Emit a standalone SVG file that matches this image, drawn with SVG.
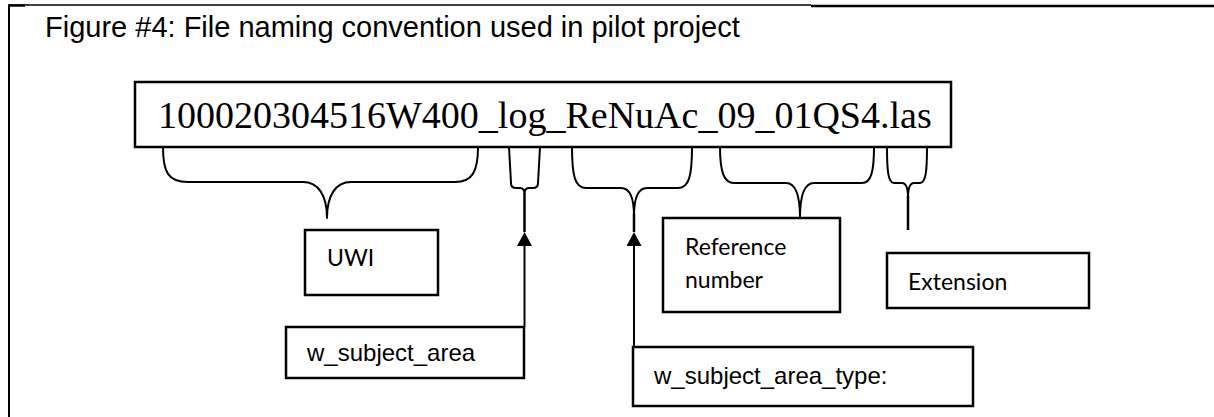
<svg xmlns="http://www.w3.org/2000/svg" width="1214" height="417" viewBox="0 0 1214 417">
  <style>
    .frame { fill: none; stroke: #000; }
    .box { fill: #fff; stroke: #000; stroke-width: 2.5; }
    .brace { fill: none; stroke: #000; stroke-width: 2; stroke-linejoin: round; }
    .stem { fill: none; stroke: #000; stroke-width: 2.5; }
    .arrow { fill: none; stroke: #000; stroke-width: 2; }
    .title { font-family: "Liberation Sans", Arial, sans-serif; font-size: 29px; fill: #000; }
    .fname { font-family: "Liberation Serif", "Times New Roman", serif; font-size: 38px; fill: #000; }
    .arial { font-family: "Liberation Sans", Arial, sans-serif; font-size: 24px; fill: #000; }
    .cal { font-family: Lato, "Open Sans", sans-serif; font-size: 23px; fill: #000; }
  </style>
  <defs>
    <marker id="head" markerUnits="userSpaceOnUse" markerWidth="15" markerHeight="15" refX="0" refY="7.5" orient="auto">
      <path d="M0,0 L14,7.5 L0,15 z" fill="#000"/>
    </marker>
  </defs>

  <rect width="1214" height="417" fill="#fff"/>

  <!-- outer frame edges -->
  <g id="frame">
    <path class="frame" stroke-width="2" d="M9,5 V417"/>
    <path class="frame" stroke-width="1.5" d="M9,5 H811"/>
    <path class="frame" stroke-width="2.5" d="M811,6 H1214"/>
    <path class="frame" stroke-width="2.5" d="M8,5.5 H25"/>
  </g>

  <text id="title" class="title" x="45" y="37">Figure #4: File naming convention used in pilot project</text>

  <g id="filename">
    <rect class="box" x="135" y="82" width="816" height="65"/>
    <text class="fname" x="158" y="128">100020304516W400_log_ReNuAc_09_01QS4.las</text>
  </g>

  <g id="uwi">
    <rect class="box" x="305" y="230" width="133" height="65"/>
    <text class="cal" x="327" y="266">UWI</text>
  </g>

  <g id="subject-area">
    <rect class="box" x="286" y="327" width="238" height="51"/>
    <text class="arial" x="307" y="361">w_subject_area</text>
  </g>

  <g id="subject-area-type">
    <rect class="box" x="633" y="347" width="340" height="59"/>
    <text class="arial" x="654" y="384">w_subject_area_type:</text>
  </g>

  <g id="reference">
    <rect class="box" x="663" y="218" width="177" height="94"/>
    <text class="cal" x="685" y="255">Reference</text>
    <text class="cal" x="685" y="288">number</text>
  </g>

  <g id="extension">
    <rect class="box" x="887" y="253" width="202" height="55"/>
    <text class="cal" x="908" y="290">Extension</text>
  </g>

  <!-- braces under the file name and the arrows leading to them -->
  <g id="connectors">
    <path class="brace" d="M163,147 C163,172 168,182 188,182 L303,182 C318,182 327,195 327,218 C327,195 336,182 351,182 L455,182 C472,182 478,172 478,147"/>

    <path class="brace" d="M509,147 L511,183 Q511,188 516,188 L520,188 Q524.5,188 524.5,194 M540,147 L538,183 Q538,188 533,188 L529,188 Q524.5,188 524.5,194"/>
    <path class="stem" d="M524.5,193 V232"/>
    <path class="arrow" d="M524.5,327 V246" marker-end="url(#head)"/>

    <path class="brace" d="M572,147 C572,176 575,188 586,188 L621,188 C630,188 634,198 634,216 M692,147 C692,176 689,188 678,188 L647,188 C638,188 634,198 634,216"/>
    <path class="stem" d="M634,214 V232"/>
    <path class="arrow" d="M634,347 V246" marker-end="url(#head)"/>

    <path class="brace" d="M720,147 C720,172 724,183 734,183 L786,183 C796,183 800,195 800,218 C800,195 804,183 814,183 L862,183 C871,183 874,172 874,147"/>

    <path class="brace" d="M887,147 C887,170 888,183 894,183 L902,183 C906,183 908,188 908,198 M927,147 C927,170 926,183 920,183 L914,183 C910,183 908,188 908,198"/>
    <path class="stem" d="M908,196 V230"/>
  </g>
</svg>
